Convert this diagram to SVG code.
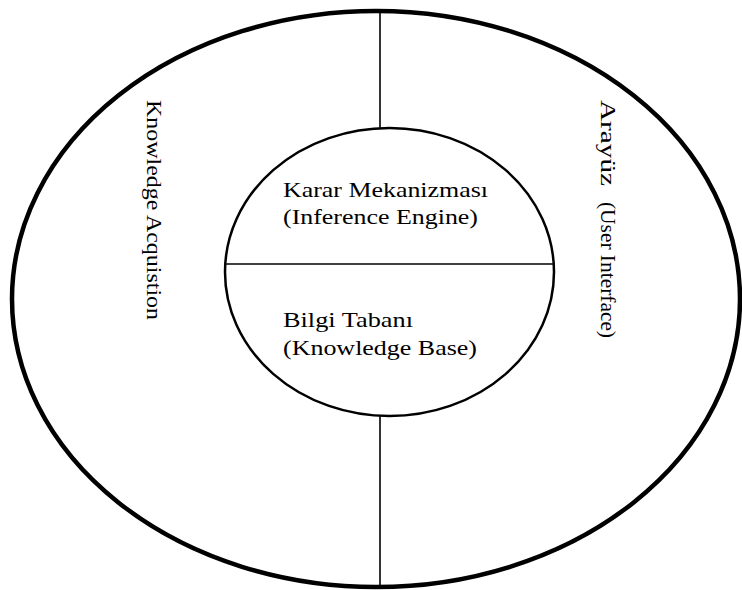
<svg xmlns="http://www.w3.org/2000/svg" width="742" height="590" viewBox="0 0 742 590">
<style>
.t{font-family:"Liberation Serif","Times New Roman",serif;font-size:22px;fill:#000}
.outer{fill:none;stroke:#000;stroke-width:4.5}
.inner{fill:none;stroke:#000;stroke-width:2.5}
.ln{stroke:#000;stroke-width:1.6;fill:none}
</style>
<rect width="742" height="590" fill="#fff"/>
<g id="outer-ring">
<ellipse class="outer" cx="376" cy="299" rx="364" ry="288"/>
</g>
<g id="connectors">
<line class="ln" x1="380" y1="12" x2="380" y2="128"/>
<line class="ln" x1="380" y1="416" x2="380" y2="586"/>
<line class="ln" x1="225" y1="264" x2="554" y2="264"/>
</g>
<g id="inner-core">
<ellipse class="inner" cx="389.5" cy="272" rx="164.5" ry="144"/>
</g>
<g id="inference-engine">
<text class="t" x="283" y="197" textLength="205" lengthAdjust="spacingAndGlyphs">Karar Mekanizması</text>
<text class="t" x="283" y="224" textLength="195" lengthAdjust="spacingAndGlyphs">(Inference Engine)</text>
</g>
<g id="knowledge-base">
<text class="t" x="283" y="327" textLength="130" lengthAdjust="spacingAndGlyphs">Bilgi Tabanı</text>
<text class="t" x="283" y="355" textLength="194" lengthAdjust="spacingAndGlyphs">(Knowledge Base)</text>
</g>
<g id="knowledge-acquisition">
<text class="t" transform="translate(147,100) rotate(90)" x="0" y="0" textLength="220" lengthAdjust="spacingAndGlyphs">Knowledge Acquistion</text>
</g>
<g id="user-interface">
<text class="t" transform="translate(601,100) rotate(90)" x="0" y="0" textLength="86" lengthAdjust="spacingAndGlyphs">Arayüz</text>
<text class="t" transform="translate(601,202) rotate(90)" x="0" y="0" textLength="136" lengthAdjust="spacingAndGlyphs">(User Interface)</text>
</g>
</svg>
